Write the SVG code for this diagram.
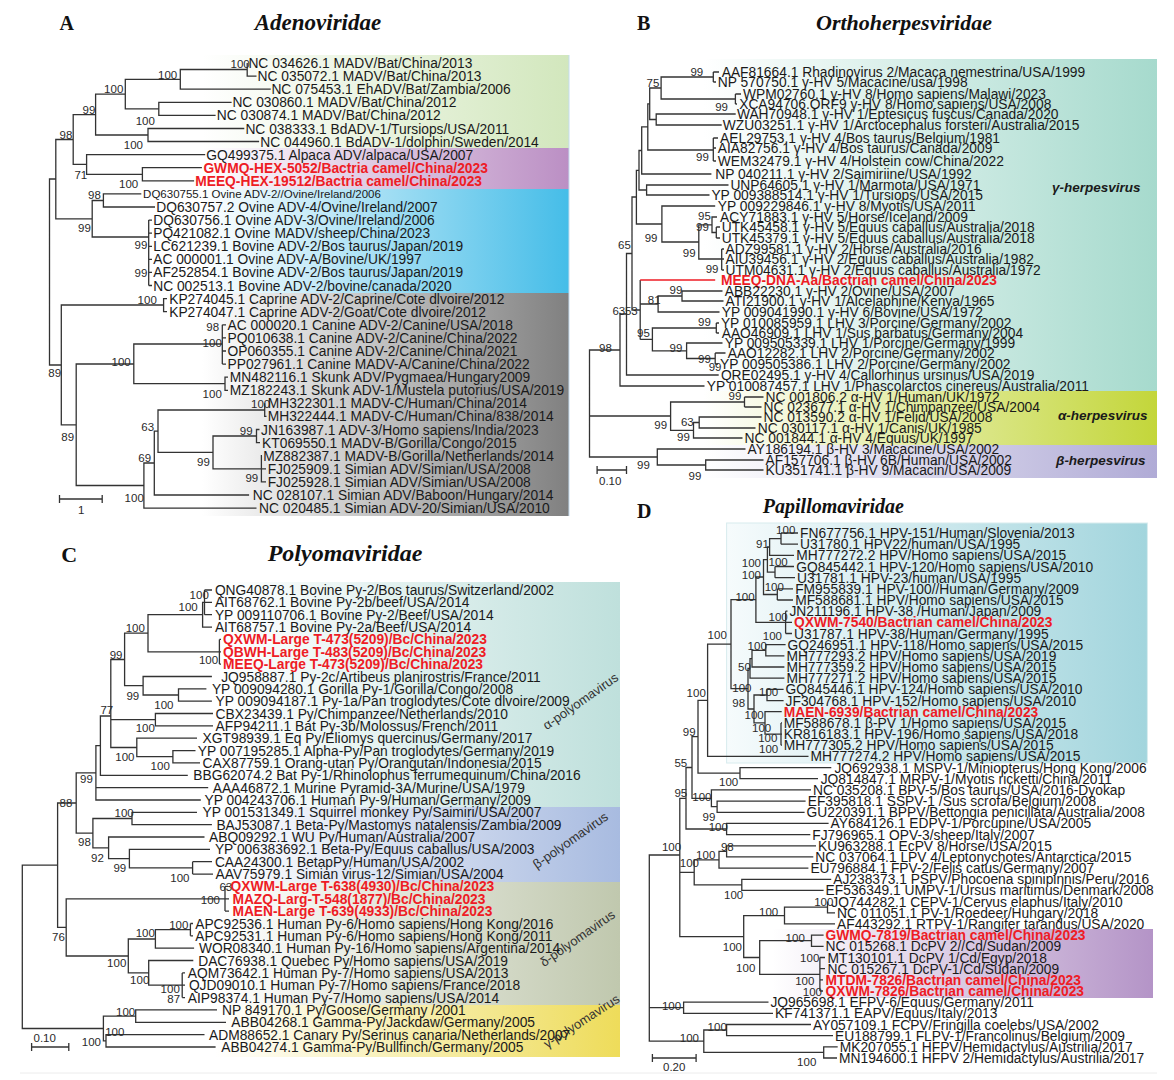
<svg xmlns="http://www.w3.org/2000/svg" width="1174" height="1080" viewBox="0 0 1174 1080">
<style>
.t{font-family:"Liberation Sans",Arial,sans-serif;font-size:13.8px;fill:#1a1a1a}
.r{font-weight:bold;fill:#ee1c25}
.sm{font-size:11.5px}
.b{font-family:"Liberation Sans",Arial,sans-serif;font-size:11.5px;fill:#2a2a2a}
.ttl{font-family:"Liberation Serif","Times New Roman",serif;font-weight:bold;font-style:italic;fill:#111}
.let{font-family:"Liberation Serif","Times New Roman",serif;font-weight:bold;fill:#111}
.cl{font-family:"Liberation Sans",Arial,sans-serif;font-weight:bold;font-style:italic;font-size:13.5px;fill:#1a1a1a}
.rot{font-family:"Liberation Sans",Arial,sans-serif;font-size:13px;fill:#333}
.ln{fill:none;stroke:#333;stroke-width:1.3}
.red{fill:none;stroke:#ee1c25;stroke-width:1.3}
.edge{fill:none;stroke:#c5dcef;stroke-width:1}
</style>
<defs>
<linearGradient id="gGreen" x1="0" x2="1" y1="0" y2="0"><stop offset="0" stop-color="#fff"/><stop offset="0.3" stop-color="#fff"/><stop offset="1" stop-color="#d2e7bd"/></linearGradient>
<linearGradient id="gPurp" x1="0" x2="1" y1="0" y2="0"><stop offset="0" stop-color="#fff"/><stop offset="0.3" stop-color="#fff"/><stop offset="1" stop-color="#bb8fc4"/></linearGradient>
<linearGradient id="gBlue" x1="0" x2="1" y1="0" y2="0"><stop offset="0" stop-color="#fff"/><stop offset="0.3" stop-color="#fff"/><stop offset="1" stop-color="#45bde8"/></linearGradient>
<linearGradient id="gGray" x1="0" x2="1" y1="0" y2="0"><stop offset="0" stop-color="#fff"/><stop offset="0.3" stop-color="#fff"/><stop offset="1" stop-color="#808080"/></linearGradient>
<linearGradient id="gTeal" x1="0" x2="1" y1="0" y2="0"><stop offset="0" stop-color="#fff"/><stop offset="0.2" stop-color="#fff"/><stop offset="1" stop-color="#a6dacd"/></linearGradient>
<linearGradient id="gAlpha" x1="0" x2="1" y1="0" y2="0"><stop offset="0" stop-color="#fff"/><stop offset="0.2" stop-color="#fff"/><stop offset="1" stop-color="#c3d63a"/></linearGradient>
<linearGradient id="gBeta" x1="0" x2="1" y1="0" y2="0"><stop offset="0" stop-color="#fff"/><stop offset="0.2" stop-color="#fff"/><stop offset="1" stop-color="#b0abd6"/></linearGradient>
<linearGradient id="gCa" x1="0" x2="1" y1="0" y2="0"><stop offset="0" stop-color="#fff"/><stop offset="0.25" stop-color="#fff"/><stop offset="1" stop-color="#bfe0dc"/></linearGradient>
<linearGradient id="gCb" x1="0" x2="1" y1="0" y2="0"><stop offset="0" stop-color="#fff"/><stop offset="0.25" stop-color="#fff"/><stop offset="1" stop-color="#a8bbe0"/></linearGradient>
<linearGradient id="gCd" x1="0" x2="1" y1="0" y2="0"><stop offset="0" stop-color="#fff"/><stop offset="0.25" stop-color="#fff"/><stop offset="1" stop-color="#c0c8ae"/></linearGradient>
<linearGradient id="gCg" x1="0" x2="1" y1="0" y2="0"><stop offset="0" stop-color="#fff"/><stop offset="0.25" stop-color="#fff"/><stop offset="1" stop-color="#eedc5a"/></linearGradient>
<linearGradient id="gDt" x1="0" x2="1" y1="0" y2="0"><stop offset="0" stop-color="#f6fbfc"/><stop offset="1" stop-color="#a2d5dd"/></linearGradient>
<linearGradient id="gDp" x1="0" x2="1" y1="0" y2="0"><stop offset="0" stop-color="#fff"/><stop offset="0.15" stop-color="#fff"/><stop offset="1" stop-color="#b494c7"/></linearGradient>
</defs>
<rect width="1174" height="1080" fill="#fff"/>
<path d="M20,1073 H1157" stroke="#ececec" stroke-width="1" fill="none"/>

<!-- ================= PANEL A ================= -->
<g id="panelA">
<rect x="45" y="55" width="524" height="93" fill="url(#gGreen)"/>
<rect x="45" y="148" width="524" height="41" fill="url(#gPurp)"/>
<rect x="45" y="189" width="524" height="104" fill="url(#gBlue)"/>
<rect x="45" y="293" width="524" height="223" fill="url(#gGray)"/>
<path class="edge" d="M569,55 V516"/>
<text class="let" x="59.5" y="30" font-size="20">A</text>
<text class="ttl" x="254.7" y="30" font-size="23">Adenoviridae</text>
<g id="A-connectors">
<path class="ln" d="M247.2,63 V76.1 H256.5 M247.2,69.5 H180.3 V89.2 H270.7 M231.6,102.3 H158.8 V115.4 H215.6 M180.3,79.4 H125.3 V108.9 H158.8 M244.3,128.5 H148 V141.5 H259.1 M125.3,94.1 H95.6 V135 H148 M201.9,167.7 H142.4 V180.8 H194.1 M205.2,154.6 H86.6 V174.3 H142.4 M95.6,114.6 H73.2 V164.4 H86.6 M141.3,193.9 H103.4 V207 H155 M148.7,220.1 V285.5 M148.7,220.1 H152 M148.7,233.2 H152 M148.7,246.3 H152 M148.7,259.4 H152 M148.7,272.4 H152 M148.7,285.5 H152 M103.4,200.5 H92.2 V237 H148.7 M73.2,139.5 H55.8 V218.8 H92.2 M167,298.6 H163.6 V311.7 H167 M222.3,324.8 V364.1 M222.3,324.8 H226 M222.3,337.9 H226 M222.3,351 H226 M222.3,364.1 H226 M228,377.2 H225 V390.3 H228 M222.3,344 H133.8 V383.7 H225 M264.7,403.3 V416.4 H266.5 M259.5,429.5 H256.5 V442.6 H260 M262,455.7 H261.4 V481.9 H266 M261.4,468.8 H266 M256.5,436 H213 V468.8 H261.4 M264.7,410 H158 V452.4 H213 M158,431.2 H154.3 V495 H249.1 M154.3,463 H143.9 V508.1 H256.5 M133.8,364 H76.2 V485.5 H143.9 M163.6,305 H61.3 V424.8 H76.2 M55.8,179 H49.5 V365 H61.3"/>
<path class="ln" d="M59.5,499 H102.2 M59.5,495 V503 M102.2,495 V503"/>
</g>
<g id="A-support" class="b">
<text x="230.5" y="68">100</text><text x="158" y="79">100</text><text x="104.1" y="93">100</text><text x="82.5" y="114">99</text><text x="135.7" y="125">100</text><text x="59.5" y="139">98</text><text x="123.8" y="149">100</text><text x="74.4" y="179">71</text><text x="119" y="188">100</text><text x="88.1" y="199">98</text><text x="78.1" y="232">99</text><text x="134.6" y="249">99</text><text x="134.6" y="277">99</text><text x="137.6" y="304">100</text><text x="206.3" y="331">98</text><text x="202.6" y="347">100</text><text x="111.5" y="366">100</text><text x="48.3" y="377">89</text><text x="202.6" y="398">100</text><text x="251" y="408.3">100</text><text x="141.3" y="431">63</text><text x="239.8" y="435">99</text><text x="61.3" y="441">89</text><text x="138.3" y="462">69</text><text x="197" y="466">99</text><text x="245.4" y="482">99</text><text x="124.6" y="502">100</text><text x="78" y="514">1</text>
</g>
<g id="A-L1"><text class="t" x="248.4" y="68">NC 034626.1 MADV/Bat/China/2013</text></g>
<g id="A-L2"><text class="t" x="257.6" y="81.1">NC 035072.1 MADV/Bat/China/2013</text></g>
<g id="A-L3"><text class="t" x="271.4" y="94.2">NC 075453.1 EhADV/Bat/Zambia/2006</text></g>
<g id="A-L4"><text class="t" x="232.4" y="107.3">NC 030860.1 MADV/Bat/China/2012</text></g>
<g id="A-L5"><text class="t" x="216.8" y="120.4">NC 030874.1 MADV/Bat/China/2012</text></g>
<g id="A-L6"><text class="t" x="245.4" y="133.5">NC 038333.1 BdADV-1/Tursiops/USA/2011</text></g>
<g id="A-L7"><text class="t" x="260.3" y="146.5">NC 044960.1 BdADV-1/dolphin/Sweden/2014</text></g>
<g id="A-L8"><text class="t" x="206.3" y="159.6">GQ499375.1 Alpaca ADV/alpaca/USA/2007</text></g>
<g id="A-L9"><text class="t r" x="203.4" y="172.7">GWMQ-HEX-5052/Bactria camel/China/2023</text></g>
<g id="A-L10"><text class="t r" x="195.2" y="185.8">MEEQ-HEX-19512/Bactria camel/China/2023</text></g>
<g id="A-L11"><text class="t sm" x="143.1" y="198">DQ630755.1 Ovine ADV-2//Ovine/Ireland/2006</text></g>
<g id="A-L12"><text class="t" x="156.2" y="212">DQ630757.2 Ovine ADV-4/Ovine/Ireland/2007</text></g>
<g id="A-L13"><text class="t" x="153.2" y="225.1">DQ630756.1 Ovine ADV-3/Ovine/Ireland/2006</text></g>
<g id="A-L14"><text class="t" x="153.2" y="238.2">PQ421082.1 Ovine MADV/sheep/China/2023</text></g>
<g id="A-L15"><text class="t" x="153.2" y="251.3">LC621239.1 Bovine ADV-2/Bos taurus/Japan/2019</text></g>
<g id="A-L16"><text class="t" x="153.2" y="264.4">AC 000001.1 Ovine ADV-A/Bovine/UK/1997</text></g>
<g id="A-L17"><text class="t" x="153.2" y="277.4">AF252854.1 Bovine ADV-2/Bos taurus/Japan/2019</text></g>
<g id="A-L18"><text class="t" x="153.2" y="290.5">NC 002513.1 Bovine ADV-2/bovine/canada/2020</text></g>
<g id="A-L19"><text class="t" x="169.2" y="303.6">KP274045.1 Caprine ADV-2/Caprine/Cote dlvoire/2012</text></g>
<g id="A-L20"><text class="t" x="169.2" y="316.7">KP274047.1 Caprine ADV-2/Goat/Cote dlvoire/2012</text></g>
<g id="A-L21"><text class="t" x="227.5" y="329.8">AC 000020.1 Canine ADV-2/Canine/USA/2018</text></g>
<g id="A-L22"><text class="t" x="227.5" y="342.9">PQ010638.1 Canine ADV-2/Canine/China/2022</text></g>
<g id="A-L23"><text class="t" x="227.5" y="356">OP060355.1 Canine ADV-2/Canine/China/2021</text></g>
<g id="A-L24"><text class="t" x="227.5" y="369.1">PP027961.1 Canine MADV-A/Canine/China/2022</text></g>
<g id="A-L25"><text class="t" x="229.8" y="382.2">MN482116.1 Skunk ADV/Pygmaea/Hungary2009</text></g>
<g id="A-L26"><text class="t" x="229.8" y="395.3">MZ182243.1 Skunk ADV-1/Mustela putorius/USA/2019</text></g>
<g id="A-L27"><text class="t" x="267.7" y="408.3">MH322301.1 MADV-C/Human/China/2014</text></g>
<g id="A-L28"><text class="t" x="267.7" y="421.4">MH322444.1 MADV-C/Human/China/838/2014</text></g>
<g id="A-L29"><text class="t" x="261" y="434.5">JN163987.1 ADV-3/Homo sapiens/India/2023</text></g>
<g id="A-L30"><text class="t" x="262.1" y="447.6">KT069550.1 MADV-B/Gorilla/Congo/2015</text></g>
<g id="A-L31"><text class="t" x="263.2" y="460.7">MZ882387.1 MADV-B/Gorilla/Netherlands/2014</text></g>
<g id="A-L32"><text class="t" x="267.7" y="473.8">FJ025909.1 Simian ADV/Simian/USA/2008</text></g>
<g id="A-L33"><text class="t" x="267.7" y="486.9">FJ025928.1 Simian ADV/Simian/USA/2008</text></g>
<g id="A-L34"><text class="t" x="252.8" y="500">NC 028107.1 Simian ADV/Baboon/Hungary/2014</text></g>
<g id="A-L35"><text class="t" x="259.1" y="513.1">NC 020485.1 Simian ADV-20/Simian/USA/2010</text></g>
</g>

<!-- ================= PANEL B ================= -->
<g id="panelB">
<rect x="590" y="59" width="567" height="332" fill="url(#gTeal)"/>
<rect x="590" y="391" width="567" height="54" fill="url(#gAlpha)"/>
<rect x="590" y="445" width="567" height="33" fill="url(#gBeta)"/>
<text class="let" x="637" y="30" font-size="20">B</text>
<text class="ttl" x="816" y="30" font-size="22">Orthoherpesviridae</text>
<text class="cl" x="1052" y="192">γ-herpesvirus</text>
<text class="cl" x="1058" y="420">α-herpesvirus</text>
<text class="cl" x="1056" y="465">β-herpesvirus</text>
<g id="B-connectors">
<path class="ln" d="M713.3,72 V82 M713.3,72 H719 M713.3,82 H716 M735.4,94 V104 M735.4,94 H741 M735.4,104 H737 M713.3,77 H661.1 V99 H735.4 M735.7,114 H656.2 V125 H721.7 M661.1,88 H649.7 V119.5 H656.2 M713.3,138 V161 M713.3,138 H718 M713.3,148 H716 M713.3,161 H716 M649.7,103.8 H647.8 V150 H713.3 M647.8,126.9 H641.7 V174 H711.4 M728.5,185 H646.6 V195 H709.5 M641.7,150.5 H639 V190 H646.6 M716.3,227 V238 M716.3,227 H720 M716.3,238 H720 M717,217 H712 V232.5 H716.3 M721.7,249 V270 M721.7,249 H724 M721.7,259 H724 M721.7,270 H724 M712,224.8 H698.8 V259 H721.7 M715.2,206 H661.9 V242 H698.8 M639,170.3 H636.4 V224 H661.9 M722.5,291 H682 V301 H723.5 M682,296 H658.1 V312 H719.5 M716.3,323 V333 M716.3,323 H719 M716.3,333 H719 M715.2,353 V364 M715.2,353 H725.5 M715.2,364 H718 M722.5,343 H686.6 V358.5 H715.2 M716.3,328 H652.4 V350.8 H686.6 M640.2,280 V339.4 M640.2,304 H658.1 M640.2,339.4 H652.4 M636.4,197 H632 V310 H640.2 M632,253.5 H626.5 V375 H718.7 M626.5,314 H620 V386 H704.5 M744.5,397 V407 M744.5,397 H763.5 M744.5,407 H761.5 M761.5,417 H699.2 V428 H755.5 M699.2,422.5 H693.5 V438 H742.5 M744.5,402 H670.6 V430.3 H693.5 M763.5,460 H705.7 V470 H763.5 M745.5,449 H657.3 V465 H705.7 M620,350 H589.5 V457 H657.3 M589.5,416 H670.6"/>
<path class="red" d="M640.2,280 H715.2"/>
<path class="ln" d="M597.1,470 H626.5 M597.1,466 V474 M626.5,466 V474"/>
</g>
<g id="B-support" class="b">
<text x="690.4" y="76">99</text><text x="646.6" y="87">75</text><text x="715.2" y="111">99</text><text x="696.1" y="161">99</text><text x="698" y="220">95</text><text x="696.1" y="231">99</text><text x="644.7" y="242">99</text><text x="618.1" y="249">65</text><text x="682.8" y="257">99</text><text x="705.7" y="273">99</text><text x="669.5" y="294">99</text><text x="647.8" y="304">81</text><text x="612.4" y="315">63</text><text x="624.9" y="315">53</text><text x="698" y="326">99</text><text x="637.1" y="337">95</text><text x="599" y="352">98</text><text x="669.5" y="352">99</text><text x="698" y="363">99</text><text x="708.7" y="371">99</text><text x="728.5" y="400">99</text><text x="680.9" y="426">63</text><text x="654.3" y="429">99</text><text x="677.1" y="441">99</text><text x="637.1" y="469">99</text><text x="688.5" y="480">99</text><text x="599" y="485">0.10</text>
</g>
<g id="B-L1"><text class="t" x="721.7" y="77">AAF81664.1 Rhadinovirus 2/Macaca nemestrina/USA/1999</text></g>
<g id="B-L2"><text class="t" x="717.8" y="87">NP 570750.1 γ-HV 5/Macacine/usa/1998</text></g>
<g id="B-L3"><text class="t" x="743" y="99">WPM02760.1 γ-HV 8/Homo sapiens/Malawi/2023</text></g>
<g id="B-L4"><text class="t" x="739.2" y="109">XCA94706.ORF9 γ-HV 8/Homo sapiens/USA/2008</text></g>
<g id="B-L5"><text class="t" x="736.9" y="119">WAH70948.1 γ-HV 1/Eptesicus fuscus/Canada/2020</text></g>
<g id="B-L6"><text class="t" x="722.8" y="130">WZU03251.1 γ-HV 1/Arctocephalus forsteri/Australia/2015</text></g>
<g id="B-L7"><text class="t" x="720.1" y="143">AEL29753.1 γ-HV 4/Bos taurus/Belgium/1981</text></g>
<g id="B-L8"><text class="t" x="717.8" y="153">AIA82756.1 γ-HV 4/Bos taurus/Canada/2009</text></g>
<g id="B-L9"><text class="t" x="717.8" y="166">WEM32479.1 γ-HV 4/Holstein cow/China/2022</text></g>
<g id="B-L10"><text class="t" x="715.2" y="179">NP 040211.1 γ-HV 2/Saimiriine/USA/1992</text></g>
<g id="B-L11"><text class="t" x="730.4" y="190">UNP64605.1 γ-HV 1/Marmota/USA/1971</text></g>
<g id="B-L12"><text class="t" x="711.4" y="200">YP 009388514.1 γ-HV 1/Tursiops/USA/2015</text></g>
<g id="B-L13"><text class="t" x="717.8" y="211">YP 009229846.1 γ-HV 8/Myotis/USA/2011</text></g>
<g id="B-L14"><text class="t" x="720.1" y="222">ACY71883.1 γ-HV 5/Horse/Iceland/2009</text></g>
<g id="B-L15"><text class="t" x="721.7" y="232">UTK45458.1 γ-HV 5/Equus caballus/Australia/2018</text></g>
<g id="B-L16"><text class="t" x="721.7" y="243">UTK45379.1 γ-HV 5/Equus caballus/Australia/2018</text></g>
<g id="B-L17"><text class="t" x="725.5" y="254">ADZ99581.1 γ-HV 2/Horse/Australia/2016</text></g>
<g id="B-L18"><text class="t" x="725.5" y="264">AIU39456.1 γ-HV 2/Equus caballus/Australia/1982</text></g>
<g id="B-L19"><text class="t" x="725.5" y="275">UTM04631.1 γ-HV 2/Equus caballus/Australia/1972</text></g>
<g id="B-L20"><text class="t r" x="720.9" y="285">MEEQ-DNA-Aa/Bactrian camel/China/2023</text></g>
<g id="B-L21"><text class="t" x="724.7" y="296">ABB22230.1 γ-HV 2/Ovine/USA/2007</text></g>
<g id="B-L22"><text class="t" x="725.5" y="306">ATI21900.1 γ-HV 1/Alcelaphine/Kenya/1965</text></g>
<g id="B-L23"><text class="t" x="721.7" y="317">YP 009041990.1 γ-HV 6/Bovine/USA/1972</text></g>
<g id="B-L24"><text class="t" x="720.9" y="328">YP 010085959.1 LHV 3/Porcine/Germany/2002</text></g>
<g id="B-L25"><text class="t" x="721.7" y="338">AAO46909.1 LHV 1/Sus barbatus/Germany/2004</text></g>
<g id="B-L26"><text class="t" x="724.7" y="348">YP 009505339.1 LHV 1/Porcine/Germany/1999</text></g>
<g id="B-L27"><text class="t" x="727.7" y="358">AAO12282.1 LHV 2/Porcine/Germany/2002</text></g>
<g id="B-L28"><text class="t" x="720.1" y="369">YP 009505386.1 LHV 2/Porcine/Germany/2002</text></g>
<g id="B-L29"><text class="t" x="720.9" y="380">QRE02495.1 γ-HV 4/Callorhinus ursinus/USA/2019</text></g>
<g id="B-L30"><text class="t" x="706.8" y="391">YP 010087457.1 LHV 1/Phascolarctos cinereus/Australia/2011</text></g>
<g id="B-L31"><text class="t" x="765.5" y="402">NC 001806.2 α-HV 1/Human/UK/1972</text></g>
<g id="B-L32"><text class="t" x="763.5" y="412">NC 023677.1 α-HV 1/Chimpanzee/USA/2004</text></g>
<g id="B-L33"><text class="t" x="763.5" y="422">NC 013590.2 α-HV 1/Felid/USA/2008</text></g>
<g id="B-L34"><text class="t" x="757.8" y="433">NC 030117.1 α-HV 1/Canis/UK/1985</text></g>
<g id="B-L35"><text class="t" x="744.5" y="443">NC 001844.1 α-HV 4/Equus/UK/1997</text></g>
<g id="B-L36"><text class="t" x="747.6" y="454">AY186194.1 β-HV 3/Macacine/USA/2002</text></g>
<g id="B-L37"><text class="t" x="765.5" y="465">AF157706.1 β-HV 6B/Human/USA/2002</text></g>
<g id="B-L38"><text class="t" x="765.5" y="475">KU351741.1 β-HV 9/Macacin/USA/2009</text></g>
</g>

<!-- ================= PANEL C ================= -->
<g id="panelC">
<rect x="80" y="582" width="540" height="225" fill="url(#gCa)"/>
<rect x="80" y="807" width="540" height="75" fill="url(#gCb)"/>
<rect x="80" y="882" width="540" height="123" fill="url(#gCd)"/>
<rect x="80" y="1005" width="540" height="52" fill="url(#gCg)"/>
<text class="let" x="61.3" y="562" font-size="22">C</text>
<text class="ttl" x="267.7" y="561" font-size="24">Polyomaviridae</text>
<text class="rot" transform="translate(583,705) rotate(-35)" text-anchor="middle">α-polyomavirus</text>
<text class="rot" transform="translate(573,844) rotate(-35)" text-anchor="middle">β-polyomavirus</text>
<text class="rot" transform="translate(580,942) rotate(-35)" text-anchor="middle">δ-polyomavirus</text>
<text class="rot" transform="translate(584,1025) rotate(-33)" text-anchor="middle">γ-polyomavirus</text>
<g id="C-connectors">
<path class="ln" d="M204.5,590 V614.7 M204.5,590 H212 M204.5,602.4 H212 M204.5,614.7 H212 M204.5,602.4 H202.6 V627.1 H212 M219.4,639.4 V664.1 M219.4,639.4 H221 M219.4,651.8 H221 M219.4,664.1 H221 M202.6,614.7 H148 V651.8 H219.4 M206.4,688.8 H178.5 V701.2 H211.9 M211.9,676.5 H143.1 V695 H178.5 M148,633.2 H124.6 V685.7 H143.1 M213,713.5 H155.4 V725.9 H213 M195.5,750.6 H172.9 V762.9 H200 M197,738.2 H136.8 V756.7 H172.9 M124.6,659.5 H110.8 V747.5 H136.8 M110.8,719.7 H155.4 M110.8,716 H100.4 V775.3 H187.8 M100.4,745.7 H95.9 V800 H200.8 M95.9,787.6 H208.2 M197,812.3 H132 V824.7 H211.9 M192.6,861.7 V874.1 M192.6,861.7 H212 M192.6,874.1 H213 M210,849.4 H129.4 V867.9 H192.6 M204.5,837 H108.6 V858.7 H129.4 M132,818.5 H92.9 V847.9 H108.6 M95.9,772.9 H76.2 V833.2 H92.9 M225,886.4 V911.1 M225,886.4 H228 M225,898.8 H229 M225,911.1 H229 M190.4,923.5 V935.8 M190.4,923.5 H193 M190.4,935.8 H193 M190.4,929.7 H155.4 V948.2 H194.1 M182.2,972.9 V997.6 M182.2,972.9 H185 M182.2,985.2 H185 M182.2,997.6 H185 M193.3,960.5 H148.7 V985.2 H182.2 M155.4,939 H128.3 V972.9 H148.7 M225,898.8 H66.2 V956 H128.3 M76.2,803 H57.6 V927.4 H66.2 M217,1009.9 H135.7 V1022.3 H226 M204.5,1034.6 H106 V1047 H215.6 M135.7,1016.1 H103.4 V1040.8 H106 M57.6,865.2 H22.3 V1028.5 H103.4"/>
<path class="ln" d="M31.6,1047 H68.8 M31.6,1043 V1051 M68.8,1043 V1051"/>
</g>
<g id="C-support" class="b">
<text x="189.6" y="599">100</text><text x="178.5" y="611">100</text><text x="125.7" y="632">100</text><text x="109.7" y="659">99</text><text x="198.9" y="664">100</text><text x="126.4" y="700">99</text><text x="154.3" y="709">100</text><text x="100.4" y="714">77</text><text x="135.7" y="732">100</text><text x="115.3" y="761">100</text><text x="150.6" y="770">100</text><text x="80" y="783">99</text><text x="59.5" y="807">88</text><text x="114.5" y="817">100</text><text x="78.1" y="846">98</text><text x="91.1" y="862">92</text><text x="113.4" y="872">99</text><text x="170.3" y="882">100</text><text x="219.4" y="891">63</text><text x="200.8" y="904">100</text><text x="169.2" y="929">100</text><text x="135.7" y="937">100</text><text x="52" y="941">76</text><text x="107.1" y="967">100</text><text x="130.1" y="984">100</text><text x="160.6" y="993">100</text><text x="167.3" y="1003">87</text><text x="116" y="1016">100</text><text x="105.2" y="1036">100</text><text x="81.8" y="1046">100</text><text x="33.5" y="1042">0.10</text>
</g>
<g id="C-L1"><text class="t" x="214.9" y="595">QNG40878.1 Bovine Py-2/Bos taurus/Switzerland/2002</text></g>
<g id="C-L2"><text class="t" x="214.9" y="607.4">AIT68762.1 Bovine Py-2b/beef/USA/2014</text></g>
<g id="C-L3"><text class="t" x="214.9" y="619.7">YP 009110706.1 Bovine Py-2/Beef/USA/2014</text></g>
<g id="C-L4"><text class="t" x="214.9" y="632.1">AIT68757.1 Bovine Py-2a/Beef/USA/2014</text></g>
<g id="C-L5"><text class="t r" x="223.1" y="644.4">QXWM-Large T-473(5209)/Bc/China/2023</text></g>
<g id="C-L6"><text class="t r" x="223.1" y="656.8">QBWH-Large T-483(5209)/Bc/China/2023</text></g>
<g id="C-L7"><text class="t r" x="223.1" y="669.1">MEEQ-Large T-473(5209)/Bc/China/2023</text></g>
<g id="C-L8"><text class="t" x="221.2" y="681.5">JQ958887.1 Py-2c/Artibeus planirostris/France/2011</text></g>
<g id="C-L9"><text class="t" x="211.9" y="693.8">YP 009094280.1 Gorilla Py-1/Gorilla/Congo/2008</text></g>
<g id="C-L10"><text class="t" x="215.6" y="706.2">YP 009094187.1 Py-1a/Pan troglodytes/Cote dlvoire/2009</text></g>
<g id="C-L11"><text class="t" x="215.6" y="718.5">CBX23439.1 Py/Chimpanzee/Netherlands/2010</text></g>
<g id="C-L12"><text class="t" x="215.6" y="730.9">AFP94211.1 Bat Py-3b/Molossus/French/2011</text></g>
<g id="C-L13"><text class="t" x="202.6" y="743.2">XGT98939.1 Eq Py/Eliomys quercinus/Germany/2017</text></g>
<g id="C-L14"><text class="t" x="197.8" y="755.6">YP 007195285.1 Alpha-Py/Pan troglodytes/Germany/2019</text></g>
<g id="C-L15"><text class="t" x="202.6" y="767.9">CAX87759.1 Orang-utan Py/Orangutan/Indonesia/2015</text></g>
<g id="C-L16"><text class="t" x="193.3" y="780.3">BBG62074.2 Bat Py-1/Rhinolophus ferrumequinum/China/2016</text></g>
<g id="C-L17"><text class="t" x="212.7" y="792.6">AAA46872.1 Murine Pyramid-3A/Murine/USA/1979</text></g>
<g id="C-L18"><text class="t" x="204.5" y="805">YP 004243706.1 Human Py-9/Human/Germany/2009</text></g>
<g id="C-L19"><text class="t" x="202.6" y="817.3">YP 001531349.1 Squirrel monkey Py/Saimiri/USA/2007</text></g>
<g id="C-L20"><text class="t" x="216.4" y="829.7">BAJ53087.1 Beta-Py/Mastomys natalensis/Zambia/2009</text></g>
<g id="C-L21"><text class="t" x="209" y="842">ABQ09292.1 WU Py/Human/Australia/2007</text></g>
<g id="C-L22"><text class="t" x="214.9" y="854.4">YP 006383692.1 Beta-Py/Equus caballus/USA/2003</text></g>
<g id="C-L23"><text class="t" x="214.9" y="866.7">CAA24300.1 BetapPy/Human/USA/2002</text></g>
<g id="C-L24"><text class="t" x="215.6" y="879.1">AAV75979.1 Simian virus-12/Simian/USA/2004</text></g>
<g id="C-L25"><text class="t r" x="230.5" y="891.4">QXWM-Large T-638(4930)/Bc/China/2023</text></g>
<g id="C-L26"><text class="t r" x="232.4" y="903.8">MAZQ-Larg-T-548(1877)/Bc/China/2023</text></g>
<g id="C-L27"><text class="t r" x="232.4" y="916.1">MAEN-Large T-639(4933)/Bc/China/2023</text></g>
<g id="C-L28"><text class="t" x="195.2" y="928.5">APC92536.1 Human Py-6/Homo sapiens/Hong Kong/2016</text></g>
<g id="C-L29"><text class="t" x="195.2" y="940.8">APC92531.1 Human Py-6/Homo sapiens/Hong Kong/2011</text></g>
<g id="C-L30"><text class="t" x="198.9" y="953.2">WOR08340.1 Human Py-16/Homo sapiens/Argentina/2014</text></g>
<g id="C-L31"><text class="t" x="198.2" y="965.5">DAC76938.1 Quebec Py/Homo sapiens/USA/2019</text></g>
<g id="C-L32"><text class="t" x="187.8" y="977.9">AQM73642.1 Human Py-7/Homo sapiens/USA/2013</text></g>
<g id="C-L33"><text class="t" x="188.9" y="990.2">QJD09010.1 Human Py-7/Homo sapiens/France/2018</text></g>
<g id="C-L34"><text class="t" x="187.8" y="1002.6">AIP98374.1 Human Py-7/Homo sapiens/USA/2014</text></g>
<g id="C-L35"><text class="t" x="222" y="1014.9">NP 849170.1 Py/Goose/Germany /2001</text></g>
<g id="C-L36"><text class="t" x="231.3" y="1027.3">ABB04268.1 Gamma-Py/Jackdaw/Germany/2005</text></g>
<g id="C-L37"><text class="t" x="209" y="1039.6">ADM88652.1 Canary Py/Serinus canaria/Netherlands/2007</text></g>
<g id="C-L38"><text class="t" x="221.2" y="1052">ABB04274.1 Gamma-Py/Bullfinch/Germany/2005</text></g>
</g>

<!-- ================= PANEL D ================= -->
<g id="panelD">
<rect x="726.6" y="523" width="420.8" height="240" fill="url(#gDt)" stroke="#d8ecee" stroke-width="1"/>
<rect x="705" y="929" width="448" height="69" fill="url(#gDp)"/>
<text class="let" x="637" y="518" font-size="20">D</text>
<text class="ttl" x="762.8" y="513" font-size="20">Papillomaviridae</text>
<g id="D-connectors">
<path class="ln" d="M781,533 V544.2 M781,533 H798 M781,544.2 H798 M781,538.6 H769.6 V555.3 H794 M775,566.5 V577.7 M775,566.5 H794 M775,577.7 H795 M769.6,547 H767.4 V572.1 H775 M777.3,588.9 V600 M777.3,588.9 H793 M777.3,600 H793 M767.4,559.6 H763.5 V594.5 H777.3 M785.6,611.2 V633.5 M785.6,611.2 H787.5 M785.6,622.4 H792 M785.6,633.5 H792 M763.5,577 H755.9 V622.4 H785.6 M785.6,644.7 H765.8 V655.9 H784.4 M765.8,650.3 H752 V667 H784.4 M752,658.7 H750 V678.2 H784.4 M783.6,689.4 H767 V700.6 H783.6 M781,722.9 V745.2 M781,722.9 H782 M781,734.1 H782 M781,745.2 H782 M781.7,711.7 H765 V734.1 H781 M767,695 H754 V722.9 H765 M750,668.4 H748 V709 H754 M755.9,599.7 H731 V688.7 H748 M731,644.2 H707.6 V756.4 H808.5 M831.3,767.6 H740 V778.7 H818 M707.6,700.3 H698 V773.2 H740 M805.6,801.1 H717.1 V812.3 H804.6 M811,789.9 H711.4 V806.7 H717.1 M698,736.7 H692 V798.3 H711.4 M828.6,823.4 H726.6 V834.6 H810.3 M692,767.5 H686 V829 H726.6 M816,845.8 H726.6 V856.9 H813.3 M726.6,851.4 H719 V868.1 H808.4 M831.2,879.3 H741.8 V890.4 H823.6 M719,859.8 H694.2 V884.9 H741.8 M827.5,901.6 V912.8 H835 M827.5,907.2 H784.5 V923.9 H835 M823.6,935.1 H811.5 V946.3 H823.6 M819.9,957.5 V991 M819.9,957.5 H825 M819.9,968.6 H825 M819.9,979.8 H823 M819.9,991 H823 M811.5,940.7 H759.7 V974.3 H819.9 M784.5,915.6 H743.7 V957.5 H759.7 M686,798.3 H679.8 V936.6 H743.7 M679.8,872.4 H694.2 M768.5,1002.1 H683.6 V1013.3 H773 M811,1024.5 H726.6 V1035.6 H833 M837.7,1046.8 H823.7 V1058 H837 M726.6,1030 H703.8 V1052.4 H823.7 M679.8,855 H649.3 V1041.2 H703.8 M649.3,1007.7 H683.6"/>
<path class="ln" d="M652.4,1058 H696.1 M652.4,1054 V1062 M696.1,1054 V1062"/>
</g>
<g id="D-support" class="b">
<text x="776.1" y="534">100</text><text x="756" y="548">91</text><text x="768.5" y="566">100</text><text x="741.8" y="567">100</text><text x="741.8" y="579">100</text><text x="764.7" y="591">100</text><text x="735.4" y="601">100</text><text x="768.5" y="621">100</text><text x="707.6" y="639">100</text><text x="762.8" y="640">100</text><text x="747.6" y="650">100</text><text x="738" y="671">50</text><text x="732.3" y="692">100</text><text x="759" y="696">100</text><text x="686.6" y="697">100</text><text x="732.3" y="707">98</text><text x="744.5" y="719">100</text><text x="752" y="732">100</text><text x="682.8" y="736">99</text><text x="758.2" y="742">100</text><text x="759" y="753">100</text><text x="674.4" y="767">55</text><text x="719" y="786">100</text><text x="674.4" y="797">95</text><text x="692.3" y="801">100</text><text x="702.6" y="821">99</text><text x="708.7" y="831">100</text><text x="661.9" y="851">100</text><text x="720.9" y="851">98</text><text x="696.1" y="859">100</text><text x="679.8" y="867">100</text><text x="724" y="899">100</text><text x="814.2" y="906">100</text><text x="759" y="916">100</text><text x="785.6" y="942">100</text><text x="722.8" y="951">100</text><text x="800.1" y="962">100</text><text x="736.1" y="972">100</text><text x="795.2" y="985">100</text><text x="802.8" y="996">100</text><text x="661.9" y="1010">100</text><text x="707.6" y="1031">100</text><text x="679.8" y="1042">100</text><text x="797.1" y="1066">100</text><text x="663" y="1071">0.20</text>
</g>
<g id="D-L1"><text class="t" x="800.1" y="538">FN677756.1 HPV-151/Human/Slovenia/2013</text></g>
<g id="D-L2"><text class="t" x="800.1" y="549.2">U31780.1 HPV22/human/USA/1995</text></g>
<g id="D-L3"><text class="t" x="796.3" y="560.3">MH777272.2 HPV/Homo sapiens/USA/2015</text></g>
<g id="D-L4"><text class="t" x="796.3" y="571.5">GQ845442.1 HPV-120/Homo sapiens/USA/2010</text></g>
<g id="D-L5"><text class="t" x="797.1" y="582.7">U31781.1 HPV-23/human/USA/1995</text></g>
<g id="D-L6"><text class="t" x="795.2" y="593.9">FM955839.1 HPV-100//Human/Germany/2009</text></g>
<g id="D-L7"><text class="t" x="795.2" y="605">MF588681.1 HPV/Homo sapiens/USA/2015</text></g>
<g id="D-L8"><text class="t" x="789.4" y="616.2">JN211196.1 HPV-38 /Human/Japan/2009</text></g>
<g id="D-L9"><text class="t r" x="794" y="627.4">QXWM-7540/Bactrian camel/China/2023</text></g>
<g id="D-L10"><text class="t" x="794" y="638.5">U31787.1 HPV-38/Human/Germany/1995</text></g>
<g id="D-L11"><text class="t" x="787.5" y="649.7">GQ246951.1 HPV-118/Homo sapiens/USA/2015</text></g>
<g id="D-L12"><text class="t" x="786.4" y="660.9">MH777293.2 HPV/Homo sapiens/USA/2019</text></g>
<g id="D-L13"><text class="t" x="786.4" y="672">MH777359.2 HPV/Homo sapiens/USA/2015</text></g>
<g id="D-L14"><text class="t" x="786.4" y="683.2">MH777271.2 HPV/Homo sapiens/USA/2015</text></g>
<g id="D-L15"><text class="t" x="785.6" y="694.4">GQ845446.1 HPV-124/Homo sapiens/USA/2010</text></g>
<g id="D-L16"><text class="t" x="785.6" y="705.6">JF304768.1 HPV-152/Homo sapiens/USA/2010</text></g>
<g id="D-L17"><text class="t r" x="783.7" y="716.7">MAEN-6939/Bactrian camel/China/2023</text></g>
<g id="D-L18"><text class="t" x="783.7" y="727.9">MF588678.1 β-PV 1/Homo sapiens/USA/2015</text></g>
<g id="D-L19"><text class="t" x="783.7" y="739.1">KR816183.1 HPV-196/Homo sapiens/USA/2018</text></g>
<g id="D-L20"><text class="t" x="783.7" y="750.2">MH777305.2 HPV/Homo sapiens/USA/2015</text></g>
<g id="D-L21"><text class="t" x="810.4" y="761.4">MH777274.2 HPV/Homo sapiens/USA/2015</text></g>
<g id="D-L22"><text class="t" x="834.4" y="772.6">JQ692938.1 MSPV-1/Miniopterus/Hong Kong/2006</text></g>
<g id="D-L23"><text class="t" x="820.7" y="783.7">JQ814847.1 MRPV-1/Myotis ricketti/China/2011</text></g>
<g id="D-L24"><text class="t" x="813" y="794.9">NC 035208.1 BPV-5/Bos taurus/USA/2016-Dyokap</text></g>
<g id="D-L25"><text class="t" x="807.7" y="806.1">EF395818.1 SSPV-1 /Sus scrofa/Belgium/2008</text></g>
<g id="D-L26"><text class="t" x="806.6" y="817.3">GU220391.1 BPPV/Bettongia penicillata/Australia/2008</text></g>
<g id="D-L27"><text class="t" x="830.6" y="828.4">AY684126.1 EDPV-1/Porcupine/USA/2005</text></g>
<g id="D-L28"><text class="t" x="812.3" y="839.6">FJ796965.1 OPV-3/sheep/Italy/2007</text></g>
<g id="D-L29"><text class="t" x="818" y="850.8">KU963288.1 EcPV 8/Horse/USA/2015</text></g>
<g id="D-L30"><text class="t" x="815.3" y="861.9">NC 037064.1 LPV 4/Leptonychotes/Antarctica/2015</text></g>
<g id="D-L31"><text class="t" x="810.4" y="873.1">EU796884.1 FPV-2/Felis catus/Germany/2007</text></g>
<g id="D-L32"><text class="t" x="833.2" y="884.3">AJ238373.1 PSPV/Phocoena spinipinnis/Peru/2016</text></g>
<g id="D-L33"><text class="t" x="825.6" y="895.4">EF536349.1 UMPV-1/Ursus maritimus/Denmark/2008</text></g>
<g id="D-L34"><text class="t" x="831.3" y="906.6">JQ744282.1 CEPV-1/Cervus elaphus/Italy/2010</text></g>
<g id="D-L35"><text class="t" x="837" y="917.8">NC 011051.1 PV-1/Roedeer/Hungary/2018</text></g>
<g id="D-L36"><text class="t" x="837" y="928.9">AF443292.1 RTPV-1/Rangifer tarandus/USA/2020</text></g>
<g id="D-L37"><text class="t r" x="825.6" y="940.1">GWMQ-7819/Bactrian camel/China/2023</text></g>
<g id="D-L38"><text class="t" x="825.6" y="951.3">NC 015268.1 DcPV 2//Cd/Sudan/2009</text></g>
<g id="D-L39"><text class="t" x="827.5" y="962.5">MT130101.1 DcPV 1/Cd/Egyp/2018</text></g>
<g id="D-L40"><text class="t" x="827.5" y="973.6">NC 015267.1 DcPV-1/Cd/Sudan/2009</text></g>
<g id="D-L41"><text class="t r" x="825.6" y="984.8">MTDM-7826/Bactrian camel/China/2023</text></g>
<g id="D-L42"><text class="t r" x="825.6" y="996">QXWM-7826/Bactrian camel/China/2023</text></g>
<g id="D-L43"><text class="t" x="770.4" y="1007.1">JQ965698.1 EFPV-6/Equus/Germany/2011</text></g>
<g id="D-L44"><text class="t" x="775" y="1018.3">KF741371.1 EAPV/Equus/Italy/2013</text></g>
<g id="D-L45"><text class="t" x="813" y="1029.5">AY057109.1 FCPV/Fringilla coelebs/USA/2002</text></g>
<g id="D-L46"><text class="t" x="835.1" y="1040.6">EU188799.1 FLPV-1/Francolinus/Belgium/2009</text></g>
<g id="D-L47"><text class="t" x="839.7" y="1051.8">MK207055.1 HFPV/Hemidactylus/Austrilia/2017</text></g>
<g id="D-L48"><text class="t" x="839" y="1063">MN194600.1 HFPV 2/Hemidactylus/Austrilia/2017</text></g>
</g>
</svg>
